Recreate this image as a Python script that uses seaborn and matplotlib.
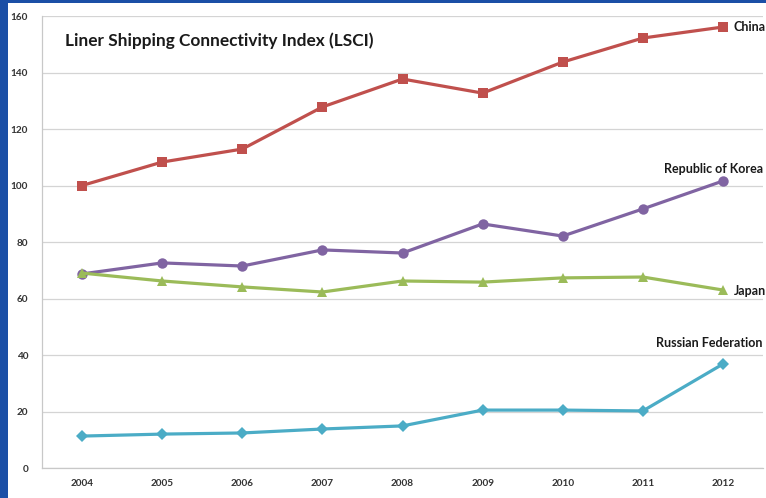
import matplotlib
matplotlib.use("Agg")
import matplotlib.pyplot as plt
from matplotlib.patches import Rectangle
import seaborn as sns
import pandas as pd

years = [2004, 2005, 2006, 2007, 2008, 2009, 2010, 2011, 2012]
china = [100.0, 108.3, 112.9, 127.8, 137.7, 132.7, 143.7, 152.2, 156.1]
korea = [68.7, 72.6, 71.5, 77.2, 76.1, 86.4, 82.1, 91.7, 101.6]
japan = [69.0, 66.2, 64.1, 62.3, 66.2, 65.8, 67.3, 67.6, 63.0]
russia = [11.3, 12.0, 12.4, 13.8, 14.9, 20.5, 20.5, 20.2, 36.8]
y_ticks = [0, 20, 40, 60, 80, 100, 120, 140, 160]

series_names = ["China", "Republic of Korea", "Japan", "Russian Federation"]
series_values = [china, korea, japan, russia]

sns.set_theme(style="white")
plt.rcParams["font.family"] = ["Lato", "DejaVu Sans"]

rows = []
for name, vals in zip(series_names, series_values):
    for yr, v in zip(years, vals):
        rows.append({"Year": yr, "LSCI": v, "Country": name})
df = pd.DataFrame(rows)

palette = {"China": "#c0504d", "Republic of Korea": "#8064a2",
           "Japan": "#9bbb59", "Russian Federation": "#4bacc6"}
markers = {"China": "s", "Republic of Korea": "o",
           "Japan": "^", "Russian Federation": "D"}
sizes = {"China": 7.5, "Republic of Korea": 7.5, "Japan": 7.5, "Russian Federation": 6}

fig = plt.figure(figsize=(7.66, 4.98), dpi=100)
fig.patch.set_facecolor("#1b4fa6")
# white slide panel
fig.add_artist(Rectangle((8 / 766, 0), 1, 1 - 3 / 498, transform=fig.transFigure,
                         facecolor="white", edgecolor="none", zorder=0))

ax = fig.add_axes([42 / 766, 1 - 468 / 498, (763 - 42) / 766, (468 - 16) / 498])
ax.set_facecolor("white")

for name in series_names:
    sub = df[df["Country"] == name]
    sns.lineplot(data=sub, x="Year", y="LSCI", ax=ax, color=palette[name],
                 marker=markers[name], markersize=sizes[name], markeredgewidth=0,
                 linewidth=2.3, legend=False, zorder=3)

ax.set_xlim(2003.5, 2012.5)
ax.set_ylim(0, 160)
ax.set_yticks(y_ticks)
ax.set_xticks(years)
ax.set_xticklabels([str(y) for y in years])
ax.set_xlabel("")
ax.set_ylabel("")
ax.grid(axis="y", color="#d4d4d4", linewidth=0.9)
ax.grid(axis="x", visible=False)
for s in ["top", "right"]:
    ax.spines[s].set_visible(False)
for s in ["left", "bottom"]:
    ax.spines[s].set_color("#c8c8c8")
    ax.spines[s].set_linewidth(0.9)
ax.tick_params(axis="both", labelsize=7.2, colors="#333333", length=0, pad=8)
ax.tick_params(axis="y", pad=10)
for lab in ax.get_xticklabels() + ax.get_yticklabels():
    lab.set_fontweight("bold")

ax.text(0.032, 0.945, "Liner Shipping Connectivity Index (LSCI)",
        transform=ax.transAxes, fontsize=12.4, fontweight="bold",
        color="#1a1a1a", va="center", ha="left")

# series labels next to the 2012 points
label_offsets = {
    "China": ((11, 0), "left"),
    "Republic of Korea": ((40, 12), "right"),
    "Japan": ((11, -1), "left"),
    "Russian Federation": ((40, 21), "right"),
}
for name, vals in zip(series_names, series_values):
    (dx, dy), ha = label_offsets[name]
    ax.annotate(name, xy=(years[-1], vals[-1]), xytext=(dx, dy),
                textcoords="offset pixels", ha=ha, va="center",
                fontsize=9.0, fontweight="bold", color="#1a1a1a",
                annotation_clip=False, clip_on=False)

fig.savefig("out.png", dpi=100)
